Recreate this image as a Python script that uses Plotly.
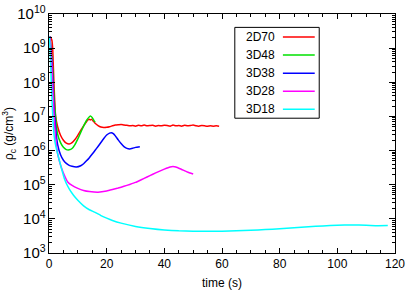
import plotly.graph_objects as go

# ---- data ----
t_2d70 = [0.4, 1.0, 1.3, 1.7, 2.3, 3, 4, 5, 6, 7, 8, 9, 10, 11, 12, 13, 13.6, 14, 14.4, 14.8, 15.3, 16, 17, 18, 19, 20, 21, 22, 23, 24, 25, 26, 27, 28, 29, 30, 31, 32, 33, 34, 35, 36, 37, 38, 39, 40, 41, 42, 43, 44, 45, 46, 47, 48, 49, 50, 51, 52, 53, 54, 55, 56, 57, 58, 59]
rho_2d70 = [2.2e9, 1.7e9, 9e8, 1e8, 1e7, 5e6, 2.8e6, 2.0e6, 1.65e6, 1.55e6, 1.7e6, 2.1e6, 2.8e6, 3.9e6, 5.3e6, 7.0e6, 8.0e6, 8.3e6, 7.9e6, 8.2e6, 7.4e6, 6.3e6, 5.4e6, 4.9e6, 4.75e6, 4.8e6, 5.0e6, 5.3e6, 5.6e6, 5.7e6, 5.8e6, 5.6e6, 5.5e6, 5.3e6, 5.4e6, 5.2e6, 5.5e6, 5.3e6, 5.6e6, 5.3e6, 5.4e6, 5.5e6, 5.2e6, 5.4e6, 5.3e6, 5.5e6, 5.4e6, 5.2e6, 5.6e6, 5.3e6, 5.4e6, 5.2e6, 5.5e6, 5.3e6, 5.4e6, 5.6e6, 5.3e6, 5.2e6, 5.4e6, 5.3e6, 5.2e6, 5.3e6, 5.2e6, 5.3e6, 5.2e6]

t_3d48 = [0.3, 1.2, 1.8, 2.5, 3, 4, 5, 6, 7, 8, 9, 10, 11, 12, 13, 14, 14.5, 15, 15.5, 16]
rho_3d48 = [2.2e9, 3e8, 3e7, 6e6, 3e6, 1.7e6, 1.25e6, 1.07e6, 1.05e6, 1.15e6, 1.5e6, 2.2e6, 3.4e6, 5.2e6, 7.6e6, 9.8e6, 1.02e7, 9.2e6, 7.8e6, 6.8e6]

t_3d38 = [0.3, 1.1, 1.7, 2.5, 3, 4, 5, 6, 7, 8, 9.5, 11, 12, 13, 14, 15, 16, 17, 18, 19, 20, 21, 21.6, 22.3, 23, 24, 25, 26, 27, 28, 29, 30, 31.5]
rho_3d38 = [2.2e9, 3e8, 2e7, 3e6, 1.5e6, 7.5e5, 5.2e5, 4.2e5, 3.7e5, 3.45e5, 3.3e5, 3.6e5, 4.1e5, 5.0e5, 6.2e5, 7.9e5, 1.02e6, 1.32e6, 1.72e6, 2.25e6, 2.85e6, 3.25e6, 3.35e6, 3.15e6, 2.7e6, 2.05e6, 1.6e6, 1.3e6, 1.16e6, 1.12e6, 1.17e6, 1.24e6, 1.3e6]

t_3d28 = [0.3, 1.0, 1.6, 2.2, 3, 4, 5, 6.5, 8, 10, 12, 14, 17, 20, 22, 24, 26, 28, 30, 32, 34, 36, 38, 40, 42, 43, 44, 46, 48, 50]
rho_3d28 = [2.2e9, 3e8, 2e7, 3e6, 8e5, 3.8e5, 2.2e5, 1.2e5, 9.5e4, 7.8e4, 6.8e4, 6.3e4, 6.0e4, 6.5e4, 7.2e4, 8.0e4, 9.0e4, 1.02e5, 1.17e5, 1.4e5, 1.68e5, 2.02e5, 2.42e5, 2.85e5, 3.3e5, 3.4e5, 3.3e5, 2.8e5, 2.35e5, 2.05e5]

t_3d18 = [0.2, 0.5, 0.8, 1.2, 1.6, 2, 2.5, 3, 4, 5.4, 7, 8.5, 10, 12, 14, 16, 18, 20, 22, 25, 30, 35, 40, 45, 50, 55, 60, 65, 70, 75, 80, 85, 90, 95, 100, 105, 110, 114, 117.5]
rho_3d18 = [2.2e9, 5e8, 1e8, 1.5e7, 4e6, 2e6, 1.2e6, 8e5, 3.8e5, 1.45e5, 7.5e4, 4.9e4, 3.5e4, 2.4e4, 1.85e4, 1.55e4, 1.25e4, 1.05e4, 9.0e3, 7.5e3, 6.0e3, 5.2e3, 4.7e3, 4.45e3, 4.35e3, 4.3e3, 4.35e3, 4.45e3, 4.6e3, 4.85e3, 5.15e3, 5.5e3, 5.85e3, 6.2e3, 6.5e3, 6.65e3, 6.5e3, 6.3e3, 6.35e3]

names = ["2D70", "3D48", "3D38", "3D28", "3D18"]
colors = ["#ff0000", "#00e000", "#0000ff", "#ff00ff", "#00ffff"]
series_t = [t_2d70, t_3d48, t_3d38, t_3d28, t_3d18]
series_rho = [rho_2d70, rho_3d48, rho_3d38, rho_3d28, rho_3d18]
x_ticks = [0, 20, 40, 60, 80, 100, 120]

FONT = "Liberation Sans, Arial, sans-serif"

fig = go.Figure()
for name, col, tt, rr in zip(names, colors, series_t, series_rho):
    fig.add_trace(go.Scatter(
        x=tt, y=rr, name=name, mode="lines",
        line=dict(color=col, width=1.5, shape="spline", smoothing=0.4),
        showlegend=False, cliponaxis=True,
    ))

# manual gnuplot-style legend (text on left, line sample on right)
box_x0, box_x1, box_y0, box_y1 = 0.537, 0.781, 0.564, 0.944
fig.add_shape(type="rect", xref="paper", yref="paper",
              x0=box_x0, x1=box_x1, y0=box_y0, y1=box_y1,
              line=dict(color="black", width=1), fillcolor="white", layer="above")
row_top = 0.904
row_step = 0.0757
for i, (name, col) in enumerate(zip(names, colors)):
    yy = row_top - i * row_step
    fig.add_annotation(xref="paper", yref="paper", x=0.658, y=yy, text=name,
                       showarrow=False, xanchor="right", yanchor="middle",
                       font=dict(family=FONT, size=12, color="black"))
    fig.add_shape(type="line", xref="paper", yref="paper",
                  x0=0.676, x1=0.768, y0=yy, y1=yy,
                  line=dict(color=col, width=1.5), layer="above")

fig.update_xaxes(
    range=[0, 120], tickvals=x_ticks, ticks="inside", ticklen=5,
    tickcolor="black", showline=True, linecolor="black", linewidth=1,
    mirror="ticks", showgrid=False, zeroline=False, automargin=False,
    minor=dict(ticks="inside", ticklen=3, dtick=5, tickcolor="black", showgrid=False),
    tickfont=dict(family=FONT, size=12, color="black"),
    title=dict(text="time (s)", font=dict(family=FONT, size=12, color="black"), standoff=8),
)
fig.update_yaxes(
    type="log", range=[3, 10], dtick=1, exponentformat="power",
    ticks="inside", ticklen=6, tickcolor="black",
    showline=True, linecolor="black", linewidth=1, mirror="ticks",
    showgrid=False, zeroline=False, automargin=False,
    minor=dict(ticks="inside", ticklen=3, dtick="D1", tickcolor="black", showgrid=False),
    tickfont=dict(family=FONT, size=12, color="black"),
    title=dict(text="ρ<sub>c</sub> (g/cm<sup>3</sup>)", font=dict(family=FONT, size=12, color="black"), standoff=2),
)
fig.update_layout(
    width=415, height=291,
    margin=dict(l=49, r=20, t=14, b=38),
    paper_bgcolor="white", plot_bgcolor="white",
    font=dict(family=FONT, size=12, color="black"),
)
fig.write_html("out.html", config={"displayModeBar": False},
               post_script="document.body.style.margin='0';document.body.style.overflow='hidden';")
